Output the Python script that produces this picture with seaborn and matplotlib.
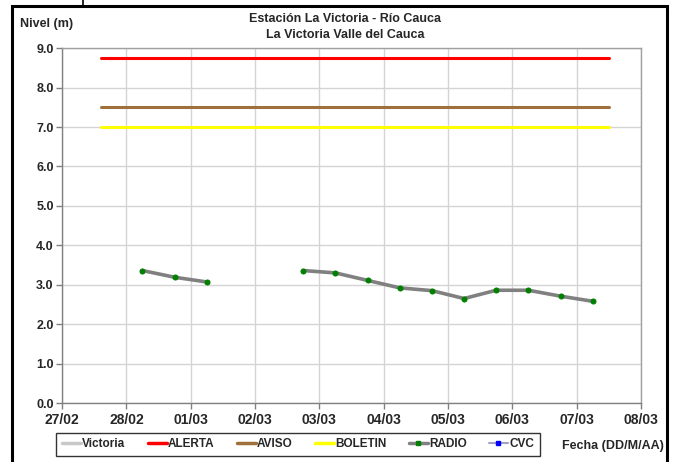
import numpy as np
import pandas as pd
import matplotlib.pyplot as plt
import matplotlib.dates as mdates
from matplotlib.lines import Line2D
from matplotlib.patches import Rectangle
import seaborn as sns

# datos de la estación (nivel en metros, lecturas cada 12 h)
fechas_radio = ['2015-02-28 06:00', '2015-02-28 18:00', '2015-03-01 06:00',
                '2015-03-02 18:00', '2015-03-03 06:00', '2015-03-03 18:00',
                '2015-03-04 06:00', '2015-03-04 18:00', '2015-03-05 06:00',
                '2015-03-05 18:00', '2015-03-06 06:00', '2015-03-06 18:00',
                '2015-03-07 06:00']
nivel_radio = [3.36, 3.19, 3.07,
               3.36, 3.30, 3.11, 2.92, 2.85, 2.65, 2.86, 2.86, 2.71, 2.58]
tramo_radio = [1, 1, 1, 2, 2, 2, 2, 2, 2, 2, 2, 2, 2]

# umbrales
fechas_umbral = ['2015-02-27 14:24', '2015-03-07 12:00']
alerta = [8.75, 8.75]
aviso = [7.5, 7.5]
boletin = [7.0, 7.0]

ticks_x = pd.date_range('2015-02-27', '2015-03-08', freq='D')

df_radio = pd.DataFrame({'fecha': pd.to_datetime(fechas_radio),
                         'nivel': nivel_radio, 'tramo': tramo_radio})
df_umbral = pd.DataFrame({'fecha': pd.to_datetime(fechas_umbral),
                          'ALERTA': alerta, 'AVISO': aviso, 'BOLETIN': boletin})

sns.set_style('white')
plt.rcParams['font.family'] = ['Liberation Sans', 'DejaVu Sans']
plt.rcParams['font.weight'] = 'bold'

fig = plt.figure(figsize=(6.74, 4.62), dpi=100)
ax = fig.add_axes([0.092, 0.1277, 0.859, 0.768])

colores = {'ALERTA': '#ff0000', 'AVISO': '#a0703c', 'BOLETIN': '#ffff00'}
for k, c in colores.items():
    sns.lineplot(data=df_umbral, x='fecha', y=k, color=c, linewidth=2.2, ax=ax)

sns.lineplot(data=df_radio, x='fecha', y='nivel', units='tramo', estimator=None,
             color='#808080', linewidth=2.6, marker='o', markersize=3.6,
             markerfacecolor='#008000', markeredgecolor='#008000', ax=ax)

ax.set_xlim(ticks_x[0], ticks_x[-1])
ax.set_ylim(0, 9)
ax.set_xticks(ticks_x)
ax.xaxis.set_major_formatter(mdates.DateFormatter('%d/%m'))
ax.set_yticks(np.arange(0, 9.1, 1.0))
ax.set_yticklabels([f'{v:.1f}' for v in np.arange(0, 9.1, 1.0)])
ax.grid(True, color='#d4d4d4', linewidth=1)
ax.set_axisbelow(True)
ax.set_xlabel('')
ax.set_ylabel('')
for s in ['top', 'right']:
    ax.spines[s].set_color('#a0a0a0')
for s in ['left', 'bottom']:
    ax.spines[s].set_color('#808080')
for s in ax.spines.values():
    s.set_linewidth(1)
ax.tick_params(axis='both', which='major', length=4, width=1, color='#808080',
               labelsize=9, pad=2, direction='out', bottom=True, left=True)
ax.tick_params(axis='x', labelsize=10, pad=3)
for lbl in ax.get_xticklabels() + ax.get_yticklabels():
    lbl.set_fontweight('bold')

fig.text(0.512, 0.958, 'Estación La Victoria - Río Cauca', ha='center', va='center',
         fontsize=9, fontweight='bold')
fig.text(0.512, 0.924, 'La Victoria Valle del Cauca', ha='center', va='center',
         fontsize=9, fontweight='bold')
fig.text(0.03, 0.948, 'Nivel (m)', ha='left', va='center', fontsize=9, fontweight='bold')
fig.text(0.985, 0.035, 'Fecha (DD/M/AA)', ha='right', va='center', fontsize=9,
         fontweight='bold')

handles = [
    Line2D([], [], color='#c8c8c8', linewidth=2.5),
    Line2D([], [], color='#ff0000', linewidth=2.5),
    Line2D([], [], color='#a0703c', linewidth=2.5),
    Line2D([], [], color='#ffff00', linewidth=2.5),
    Line2D([], [], color='#808080', linewidth=2.5, marker='s', markersize=3,
           markerfacecolor='#008000', markeredgecolor='#008000'),
    Line2D([], [], color='#a0a0c8', linewidth=1.5, marker='s', markersize=2.5,
           markerfacecolor='#0000ff', markeredgecolor='#0000ff'),
]
etiquetas = ['Victoria', 'ALERTA', 'AVISO', 'BOLETIN', 'RADIO', 'CVC']
leg = fig.legend(handles, etiquetas, loc='center', bbox_to_anchor=(0.442, 0.038),
                 ncol=6, fontsize=8.5, frameon=True, fancybox=False,
                 handlelength=1.6, handletextpad=0.1, columnspacing=1.9,
                 borderpad=0.5, borderaxespad=0, edgecolor='#000000')
leg.get_frame().set_linewidth(1)
for t in leg.get_texts():
    t.set_fontweight('bold')

# marco negro del gráfico
fig.patches.append(Rectangle((12 / 674, -0.05), 655 / 674, 1.05 - 6 / 462,
                             transform=fig.transFigure, fill=False,
                             edgecolor='black', linewidth=2.2))
fig.lines.append(Line2D([83 / 674, 83 / 674], [1 - 6 / 462, 1.0],
                        transform=fig.transFigure, color='black', linewidth=1.2))

fig.savefig('out.png', dpi=100)
